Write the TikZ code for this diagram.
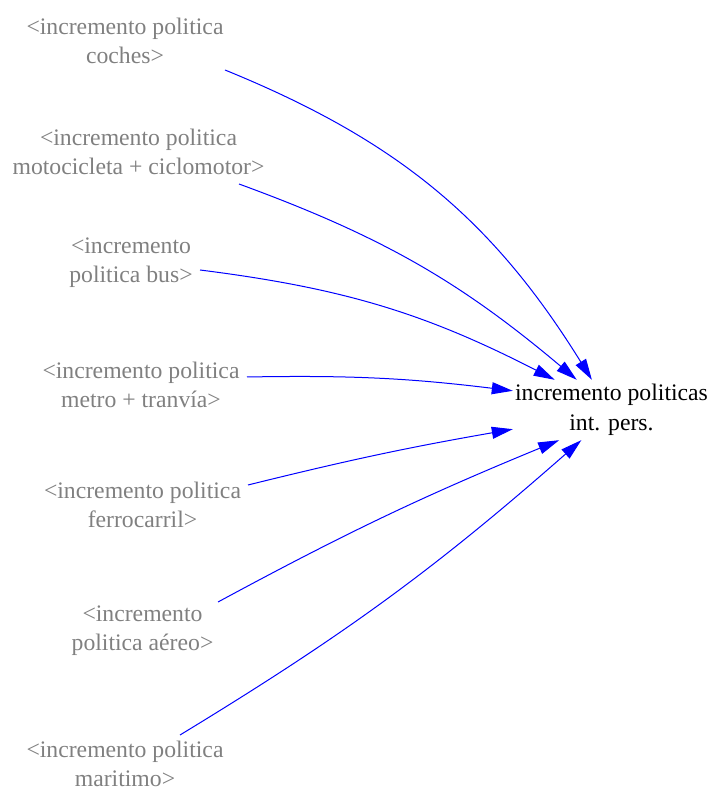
\documentclass[tikz,border=0pt]{standalone}
\usepackage{fontspec}
\setmainfont{Liberation Serif}
\usetikzlibrary{arrows.meta}
\definecolor{shadowtext}{RGB}{128,128,128}
\definecolor{linkblue}{RGB}{0,0,255}
\tikzset{
  shadowvar/.style={align=center, text=shadowtext, inner sep=0pt,
    font=\fontsize{23.7}{29}\selectfont},
  auxvar/.style={align=center, text=black, inner sep=0pt,
    minimum width=197pt, minimum height=60pt,
    font=\fontsize{23.7}{30}\selectfont},
  link/.style={draw=linkblue, line width=1pt,
    -{Triangle[length=21pt,width=12pt]}}
}
\begin{document}
\begin{tikzpicture}[x=1pt,y=1pt]
\useasboundingbox (0,0) rectangle (712,792);

% shadow variables
\node[shadowvar] (coches) at (125,751) {<incremento politica\\coches>};
\node[shadowvar] (moto)   at (138.5,640) {<incremento politica\\motocicleta + ciclomotor>};
\node[shadowvar] (bus)    at (131,529) {<incremento\\politica bus>};
\node[shadowvar] (metro)  at (141,407) {<incremento politica\\metro + tranvía>};
\node[shadowvar] (ferro)  at (142.5,287) {<incremento politica\\ferrocarril>};
\node[shadowvar] (aereo)  at (142.5,161) {<incremento\\politica aéreo>};
\node[shadowvar] (mar)    at (125,28) {<incremento politica\\maritimo>};

% aggregated variable
\node[auxvar] (total) at (611.5,382) {incremento politicas\\int. pers.};

% causal links
\draw[link] ([shift={(100,-29)}]coches.center) to[bend left=18] (total.123);
\draw[link] ([shift={(100.5,-32)}]moto.center) to[bend left=10] (total.139);
\draw[link] ([shift={(69,-7)}]bus.center) to[bend left=10] (total.152);
\draw[link] ([shift={(106,8)}]metro.center) to[bend left=4] (total.169.6);
\draw[link] ([shift={(105.5,20)}]ferro.center) to[bend left=2] (total.191.5);
\draw[link] ([shift={(75.5,29)}]aereo.center) to[bend left=3] (total.210);
\draw[link] ([shift={(55,29)}]mar.center) to[bend right=5] (total.225.5);
\end{tikzpicture}
\end{document}
